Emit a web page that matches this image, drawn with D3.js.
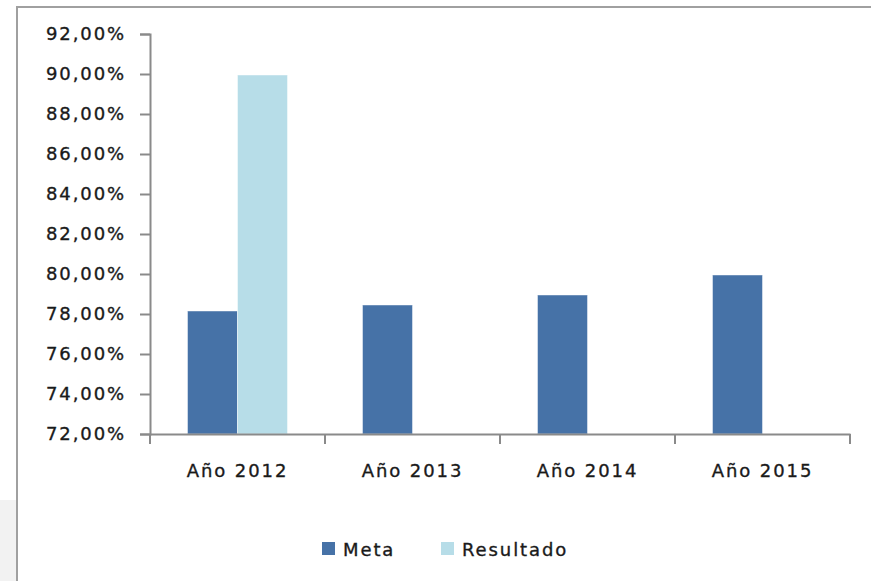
<!DOCTYPE html>
<html>
<head>
<meta charset="utf-8">
<script src="https://cdn.jsdelivr.net/npm/d3@7"></script>
<style>
  html, body { margin: 0; padding: 0; background: #ffffff; }
  svg { display: block; }
  text { font-family: "DejaVu Sans", sans-serif; font-size: 18px; letter-spacing: 1.9px; fill: #1a1a1a; stroke: #1a1a1a; stroke-width: 0.35px; }
</style>
</head>
<body>
<svg id="chart" width="871" height="581"></svg>
<script>
const categories = ["Año 2012", "Año 2013", "Año 2014", "Año 2015"];
const seriesNames = ["Meta", "Resultado"];
const meta = [78.15, 78.45, 78.95, 79.95];
const resultado = [89.95, null, null, null];
const yTicks = [72, 74, 76, 78, 80, 82, 84, 86, 88, 90, 92];
const colors = { "Meta": "#4672a7", "Resultado": "#b7dde8" };

(function () {
const svg = d3.select("#chart");
const W = 871, H = 581;

// background patch bottom-left
svg.append("rect").attr("x", 0).attr("y", 500).attr("width", 16).attr("height", H - 500).attr("fill", "#f2f2f2");
// chart area border
svg.append("rect").attr("x", 17).attr("y", 7).attr("width", W + 10).attr("height", H + 10)
  .attr("fill", "#ffffff").attr("stroke", "#a0a0a0").attr("stroke-width", 2);

const pLeft = 150, pRight = 850, pTop = 34, pBottom = 434;
const x = d3.scaleBand().domain(categories).range([pLeft, pRight]).paddingInner(0).paddingOuter(0);
const xs = d3.scaleBand().domain(seriesNames).range([0, x.bandwidth()]).paddingInner(0).paddingOuter(0.75);
const y = d3.scaleLinear().domain([72, 92]).range([pBottom, pTop]);

const rows = categories.map((c, i) => ({ cat: c, values: [
  { name: "Meta", v: meta[i] }, { name: "Resultado", v: resultado[i] }
].filter(d => d.v != null) }));

const g = svg.append("g");
g.selectAll("g.cat").data(rows).join("g").attr("class", "cat")
  .attr("transform", d => `translate(${x(d.cat)},0)`)
  .selectAll("rect").data(d => d.values).join("rect")
  .attr("x", d => xs(d.name))
  .attr("width", xs.bandwidth())
  .attr("y", d => y(d.v))
  .attr("height", d => y(72) - y(d.v))
  .attr("fill", d => colors[d.name])
  .attr("stroke", "rgba(255,255,255,0.45)")
  .attr("stroke-width", 1);

// Y axis
const yAxis = d3.axisLeft(y).tickValues(yTicks).tickSize(10).tickPadding(14)
  .tickFormat(d => d.toFixed(2).replace(".", ",") + "%");
const ya = svg.append("g").attr("transform", `translate(${pLeft},0)`).call(yAxis);
ya.select(".domain").attr("stroke", "#8a8a8a").attr("stroke-width", 2);
ya.selectAll(".tick line").attr("stroke", "#8a8a8a").attr("stroke-width", 2);
ya.selectAll(".tick text").style("font-size", "18px").style("font-family", "DejaVu Sans").attr("fill", "#1a1a1a");

// X axis
const xAxis = d3.axisBottom(x).tickSize(0).tickPadding(30);
const xa = svg.append("g").attr("transform", `translate(0,${pBottom})`).call(xAxis);
xa.select(".domain").attr("stroke", "#8a8a8a").attr("stroke-width", 2);
xa.selectAll(".tick text").style("font-size", "18px").style("font-family", "DejaVu Sans").attr("fill", "#1a1a1a");
// boundary ticks
const bounds = categories.map(c => x(c)).concat([x(categories[categories.length - 1]) + x.bandwidth()]);
xa.selectAll("line.bound").data(bounds).join("line").attr("class", "bound")
  .attr("x1", d => d).attr("x2", d => d).attr("y1", 0).attr("y2", 10)
  .attr("stroke", "#8a8a8a").attr("stroke-width", 2);

// Legend
const legendItems = [{ name: "Meta", x: 322 }, { name: "Resultado", x: 441 }];
const lg = svg.append("g").selectAll("g").data(legendItems).join("g")
  .attr("transform", d => `translate(${d.x},542)`);
lg.append("rect").attr("width", 13).attr("height", 13).attr("fill", d => colors[d.name]);
lg.append("text").attr("x", 21).attr("y", 13.5).text(d => d.name);
})();
</script>
</body>
</html>
